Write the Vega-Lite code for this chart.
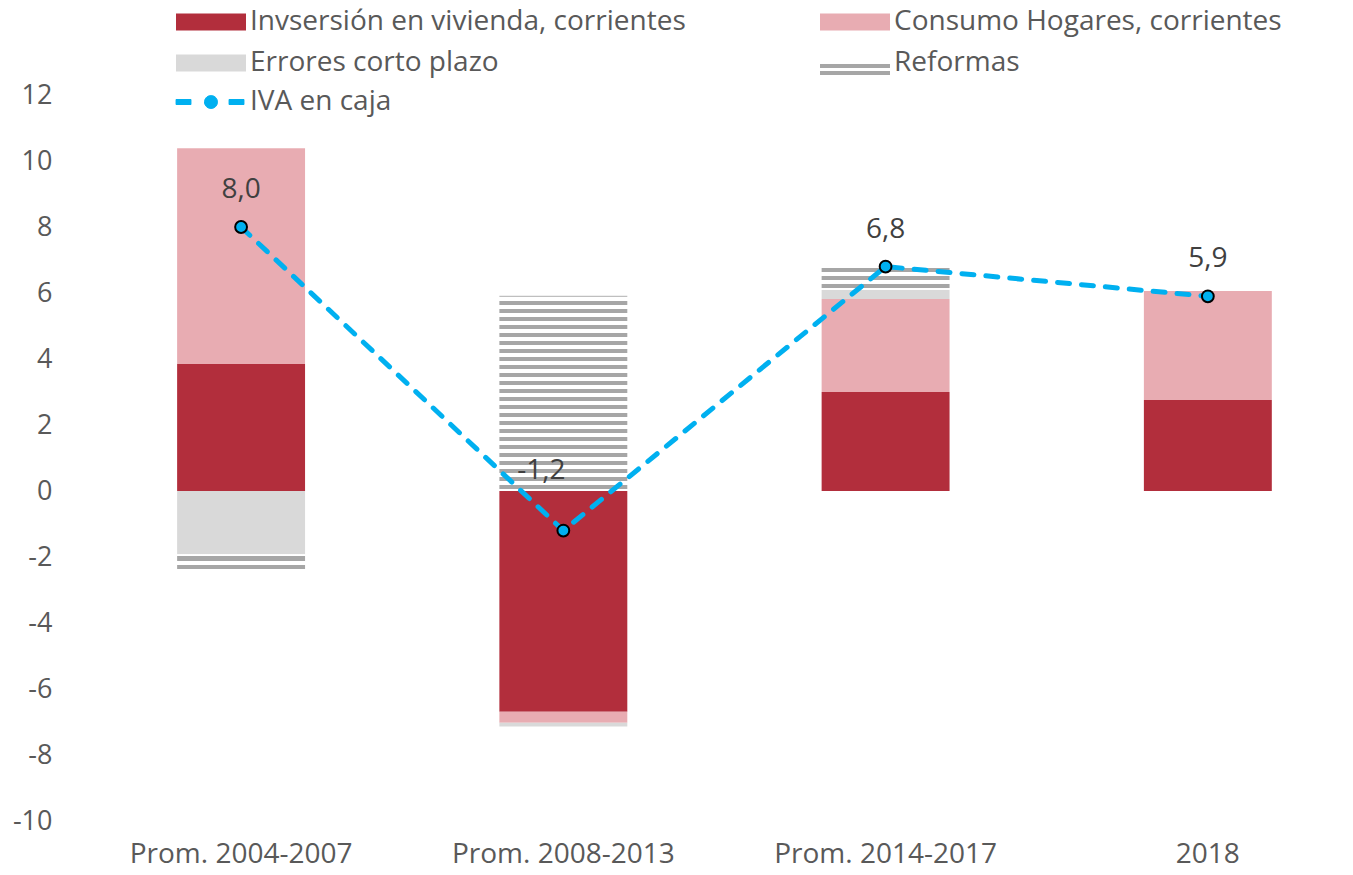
{
  "$schema": "https://vega.github.io/schema/vega-lite/v6.json",
  "width": 1270,
  "height": 726,
  "autosize": {"type": "none"},
  "padding": {"left": 80, "top": 95, "right": 3, "bottom": 54},
  "background": "#FFFFFF",
  "datasets": {
    "barras": [
      {"periodo": "Prom. 2004-2007", "serie": "Invsersión en vivienda, corrientes", "orden": 1, "valor": 3.85},
      {"periodo": "Prom. 2004-2007", "serie": "Consumo Hogares, corrientes", "orden": 2, "valor": 6.54},
      {"periodo": "Prom. 2004-2007", "serie": "Errores corto plazo", "orden": 3, "valor": -1.92},
      {"periodo": "Prom. 2004-2007", "serie": "Reformas", "orden": 4, "valor": -0.44},
      {"periodo": "Prom. 2008-2013", "serie": "Invsersión en vivienda, corrientes", "orden": 1, "valor": -6.69},
      {"periodo": "Prom. 2008-2013", "serie": "Consumo Hogares, corrientes", "orden": 2, "valor": -0.33},
      {"periodo": "Prom. 2008-2013", "serie": "Errores corto plazo", "orden": 3, "valor": -0.12},
      {"periodo": "Prom. 2008-2013", "serie": "Reformas", "orden": 4, "valor": 5.92},
      {"periodo": "Prom. 2014-2017", "serie": "Invsersión en vivienda, corrientes", "orden": 1, "valor": 3.0},
      {"periodo": "Prom. 2014-2017", "serie": "Consumo Hogares, corrientes", "orden": 2, "valor": 2.82},
      {"periodo": "Prom. 2014-2017", "serie": "Errores corto plazo", "orden": 3, "valor": 0.27},
      {"periodo": "Prom. 2014-2017", "serie": "Reformas", "orden": 4, "valor": 0.67},
      {"periodo": "2018", "serie": "Invsersión en vivienda, corrientes", "orden": 1, "valor": 2.76},
      {"periodo": "2018", "serie": "Consumo Hogares, corrientes", "orden": 2, "valor": 3.3}
    ],
    "iva": [
      {"periodo": "Prom. 2004-2007", "serie": "IVA en caja", "valor": 8.0},
      {"periodo": "Prom. 2008-2013", "serie": "IVA en caja", "valor": -1.2},
      {"periodo": "Prom. 2014-2017", "serie": "IVA en caja", "valor": 6.8},
      {"periodo": "2018", "serie": "IVA en caja", "valor": 5.9}
    ]
  },
  "encoding": {
    "x": {
      "field": "periodo", "type": "nominal",
      "sort": ["Prom. 2004-2007", "Prom. 2008-2013", "Prom. 2014-2017", "2018"],
      "scale": {"paddingInner": 0.603, "paddingOuter": 0.272, "align": 0.554},
      "axis": {"title": null, "domain": false, "ticks": false, "grid": false, "labelAngle": 0, "labelLimit": 0,
        "labelFont": "Open Sans", "labelFontSize": 28, "labelColor": "#595959", "labelPadding": 19, "labelBaseline": "top"}
    }
  },
  "layer": [
    {
      "mark": {"type": "rule", "color": "#D9D9D9", "strokeWidth": 2},
      "encoding": {"x": null, "y": {"datum": 0, "type": "quantitative"}}
    },
    {
      "data": {"name": "barras"},
      "mark": {"type": "bar", "strokeWidth": 0},
      "encoding": {
        "y": {
          "field": "valor", "type": "quantitative", "stack": "zero",
          "scale": {"domain": [-10, 12], "nice": false, "zero": false},
          "axis": {"title": null, "values": [-10, -8, -6, -4, -2, 0, 2, 4, 6, 8, 10, 12], "format": "d",
            "domain": false, "ticks": false, "grid": false, "labelFont": "Open Sans", "labelFontSize": 27,
            "labelColor": "#595959", "labelPadding": 28}
        },
        "order": {"field": "orden", "type": "quantitative"},
        "fill": {
          "field": "serie", "type": "nominal",
          "condition": [
            {"test": "datum.serie === 'Reformas' && datum.periodo === 'Prom. 2008-2013'",
              "value": {"gradient": "linear", "x1": 0, "y1": 0, "x2": 0, "y2": 1, "stops": [
                {"offset": 0, "color": "#BFBFBF"}, {"offset": 0.006, "color": "#BFBFBF"},
                {"offset": 0.006, "color": "#FFFFFF"}, {"offset": 0.0256, "color": "#FFFFFF"},
                {"offset": 0.0256, "color": "#A6A6A6"}, {"offset": 0.0462, "color": "#A6A6A6"}, {"offset": 0.0462, "color": "#FFFFFF"}, {"offset": 0.0667, "color": "#FFFFFF"},
                {"offset": 0.0667, "color": "#A6A6A6"}, {"offset": 0.0872, "color": "#A6A6A6"}, {"offset": 0.0872, "color": "#FFFFFF"}, {"offset": 0.1077, "color": "#FFFFFF"},
                {"offset": 0.1077, "color": "#A6A6A6"}, {"offset": 0.1282, "color": "#A6A6A6"}, {"offset": 0.1282, "color": "#FFFFFF"}, {"offset": 0.1487, "color": "#FFFFFF"},
                {"offset": 0.1487, "color": "#A6A6A6"}, {"offset": 0.1692, "color": "#A6A6A6"}, {"offset": 0.1692, "color": "#FFFFFF"}, {"offset": 0.1897, "color": "#FFFFFF"},
                {"offset": 0.1897, "color": "#A6A6A6"}, {"offset": 0.2103, "color": "#A6A6A6"}, {"offset": 0.2103, "color": "#FFFFFF"}, {"offset": 0.2308, "color": "#FFFFFF"},
                {"offset": 0.2308, "color": "#A6A6A6"}, {"offset": 0.2513, "color": "#A6A6A6"}, {"offset": 0.2513, "color": "#FFFFFF"}, {"offset": 0.2718, "color": "#FFFFFF"},
                {"offset": 0.2718, "color": "#A6A6A6"}, {"offset": 0.2923, "color": "#A6A6A6"}, {"offset": 0.2923, "color": "#FFFFFF"}, {"offset": 0.3128, "color": "#FFFFFF"},
                {"offset": 0.3128, "color": "#A6A6A6"}, {"offset": 0.3333, "color": "#A6A6A6"}, {"offset": 0.3333, "color": "#FFFFFF"}, {"offset": 0.3538, "color": "#FFFFFF"},
                {"offset": 0.3538, "color": "#A6A6A6"}, {"offset": 0.3744, "color": "#A6A6A6"}, {"offset": 0.3744, "color": "#FFFFFF"}, {"offset": 0.3949, "color": "#FFFFFF"},
                {"offset": 0.3949, "color": "#A6A6A6"}, {"offset": 0.4154, "color": "#A6A6A6"}, {"offset": 0.4154, "color": "#FFFFFF"}, {"offset": 0.4359, "color": "#FFFFFF"},
                {"offset": 0.4359, "color": "#A6A6A6"}, {"offset": 0.4564, "color": "#A6A6A6"}, {"offset": 0.4564, "color": "#FFFFFF"}, {"offset": 0.4769, "color": "#FFFFFF"},
                {"offset": 0.4769, "color": "#A6A6A6"}, {"offset": 0.4974, "color": "#A6A6A6"}, {"offset": 0.4974, "color": "#FFFFFF"}, {"offset": 0.5179, "color": "#FFFFFF"},
                {"offset": 0.5179, "color": "#A6A6A6"}, {"offset": 0.5385, "color": "#A6A6A6"}, {"offset": 0.5385, "color": "#FFFFFF"}, {"offset": 0.559, "color": "#FFFFFF"},
                {"offset": 0.559, "color": "#A6A6A6"}, {"offset": 0.5795, "color": "#A6A6A6"}, {"offset": 0.5795, "color": "#FFFFFF"}, {"offset": 0.6, "color": "#FFFFFF"},
                {"offset": 0.6, "color": "#A6A6A6"}, {"offset": 0.6205, "color": "#A6A6A6"}, {"offset": 0.6205, "color": "#FFFFFF"}, {"offset": 0.641, "color": "#FFFFFF"},
                {"offset": 0.641, "color": "#A6A6A6"}, {"offset": 0.6615, "color": "#A6A6A6"}, {"offset": 0.6615, "color": "#FFFFFF"}, {"offset": 0.6821, "color": "#FFFFFF"},
                {"offset": 0.6821, "color": "#A6A6A6"}, {"offset": 0.7026, "color": "#A6A6A6"}, {"offset": 0.7026, "color": "#FFFFFF"}, {"offset": 0.7231, "color": "#FFFFFF"},
                {"offset": 0.7231, "color": "#A6A6A6"}, {"offset": 0.7436, "color": "#A6A6A6"}, {"offset": 0.7436, "color": "#FFFFFF"}, {"offset": 0.7641, "color": "#FFFFFF"},
                {"offset": 0.7641, "color": "#A6A6A6"}, {"offset": 0.7846, "color": "#A6A6A6"}, {"offset": 0.7846, "color": "#FFFFFF"}, {"offset": 0.8051, "color": "#FFFFFF"},
                {"offset": 0.8051, "color": "#A6A6A6"}, {"offset": 0.8256, "color": "#A6A6A6"}, {"offset": 0.8256, "color": "#FFFFFF"}, {"offset": 0.8462, "color": "#FFFFFF"},
                {"offset": 0.8462, "color": "#A6A6A6"}, {"offset": 0.8667, "color": "#A6A6A6"}, {"offset": 0.8667, "color": "#FFFFFF"}, {"offset": 0.8872, "color": "#FFFFFF"},
                {"offset": 0.8872, "color": "#A6A6A6"}, {"offset": 0.9077, "color": "#A6A6A6"}, {"offset": 0.9077, "color": "#FFFFFF"}, {"offset": 0.9282, "color": "#FFFFFF"},
                {"offset": 0.9282, "color": "#A6A6A6"}, {"offset": 0.9487, "color": "#A6A6A6"}, {"offset": 0.9487, "color": "#FFFFFF"}, {"offset": 0.9692, "color": "#FFFFFF"},
                {"offset": 0.9692, "color": "#A6A6A6"}, {"offset": 0.9897, "color": "#A6A6A6"}, {"offset": 0.9897, "color": "#FFFFFF"}, {"offset": 1, "color": "#FFFFFF"}
              ]}},
            {"test": "datum.serie === 'Reformas' && datum.periodo === 'Prom. 2004-2007'",
              "value": {"gradient": "linear", "x1": 0, "y1": 0, "x2": 0, "y2": 1, "stops": [
                {"offset": 0, "color": "#FFFFFF"}, {"offset": 0.14, "color": "#FFFFFF"},
                {"offset": 0.14, "color": "#A6A6A6"}, {"offset": 0.43, "color": "#A6A6A6"},
                {"offset": 0.43, "color": "#FFFFFF"}, {"offset": 0.71, "color": "#FFFFFF"},
                {"offset": 0.71, "color": "#A6A6A6"}, {"offset": 1, "color": "#A6A6A6"}
              ]}},
            {"test": "datum.serie === 'Reformas'",
              "value": {"gradient": "linear", "x1": 0, "y1": 0, "x2": 0, "y2": 1, "stops": [
                {"offset": 0, "color": "#A6A6A6"}, {"offset": 0.18, "color": "#A6A6A6"},
                {"offset": 0.18, "color": "#FFFFFF"}, {"offset": 0.36, "color": "#FFFFFF"},
                {"offset": 0.36, "color": "#A6A6A6"}, {"offset": 0.55, "color": "#A6A6A6"},
                {"offset": 0.55, "color": "#FFFFFF"}, {"offset": 0.73, "color": "#FFFFFF"},
                {"offset": 0.73, "color": "#A6A6A6"}, {"offset": 0.91, "color": "#A6A6A6"},
                {"offset": 0.91, "color": "#FFFFFF"}, {"offset": 1, "color": "#FFFFFF"}
              ]}}
          ],
          "scale": {
            "domain": ["Invsersión en vivienda, corrientes", "Consumo Hogares, corrientes", "Errores corto plazo", "Reformas"],
            "range": ["#B22E3C", "#E8ACB2", "#D9D9D9", "#A6A6A6"]
          },
          "legend": {
            "orient": "none", "direction": "horizontal", "legendX": 92, "legendY": -87, "columns": 2, "columnPadding": 130, "rowPadding": 13,
            "title": null, "symbolSize": 400, "symbolStrokeWidth": 0, "labelOffset": 50, "labelLimit": 0,
            "labelFont": "Open Sans", "labelFontSize": 28, "labelColor": "#595959",
            "encode": {"symbols": {"update": {"shape": {"signal": "datum.value === 'Reformas' ? 'M-1,0.1H6V0.5H-1Z M-1,0.8H6V1.2H-1Z' : 'M-1,-0.85H6V0.85H-1Z'"}}}}
          }
        }
      }
    },
    {
      "data": {"name": "iva"},
      "mark": {"type": "line", "strokeWidth": 5, "strokeDash": [12, 12], "strokeCap": "round"},
      "encoding": {
        "y": {"field": "valor", "type": "quantitative"},
        "stroke": {
          "field": "serie", "type": "nominal",
          "scale": {"domain": ["IVA en caja"], "range": ["#00B0F0"]},
          "legend": {
            "orient": "none", "legendX": 92, "legendY": -7, "title": null,
            "symbolSize": 400, "labelOffset": 50, "labelLimit": 0,
            "labelFont": "Open Sans", "labelFontSize": 28, "labelColor": "#595959",
            "encode": {"symbols": {"update": {
              "shape": {"value": "M-1,-0.25H0.5V0.25H-1Z M4.3,-0.25H5.8V0.25H4.3Z M1.85,0A0.65,0.65 0 1,0 3.15,0A0.65,0.65 0 1,0 1.85,0Z"},
              "fill": {"value": "#00B0F0"}, "stroke": {"value": "#00B0F0"}, "strokeWidth": {"value": 1}, "strokeDash": {"value": [1, 0]}
            }}}
          }
        }
      }
    },
    {
      "data": {"name": "iva"},
      "mark": {"type": "point", "filled": true, "fill": "#00B0F0", "stroke": "#000000", "strokeWidth": 2, "size": 140, "opacity": 1},
      "encoding": {"y": {"field": "valor", "type": "quantitative"}}
    },
    {
      "data": {"name": "iva"},
      "transform": [{"filter": "datum.periodo !== 'Prom. 2008-2013'"}],
      "mark": {"type": "text", "dy": -37, "font": "Open Sans", "fontSize": 28, "color": "#404040", "baseline": "middle"},
      "encoding": {"y": {"field": "valor", "type": "quantitative"}, "text": {"field": "valor", "type": "quantitative", "format": ".1f"}}
    },
    {
      "data": {"name": "iva"},
      "transform": [{"filter": "datum.periodo === 'Prom. 2008-2013'"}],
      "mark": {"type": "text", "dy": -60, "dx": -22, "font": "Open Sans", "fontSize": 28, "color": "#404040", "baseline": "middle"},
      "encoding": {"y": {"field": "valor", "type": "quantitative"}, "text": {"field": "valor", "type": "quantitative", "format": ".1f"}}
    }
  ],
  "resolve": {"scale": {"y": "shared"}},
  "config": {
    "view": {"stroke": null},
    "locale": {"number": {"decimal": ",", "thousands": ".", "grouping": [3], "currency": ["", " €"], "minus": "-"}}
  }
}
